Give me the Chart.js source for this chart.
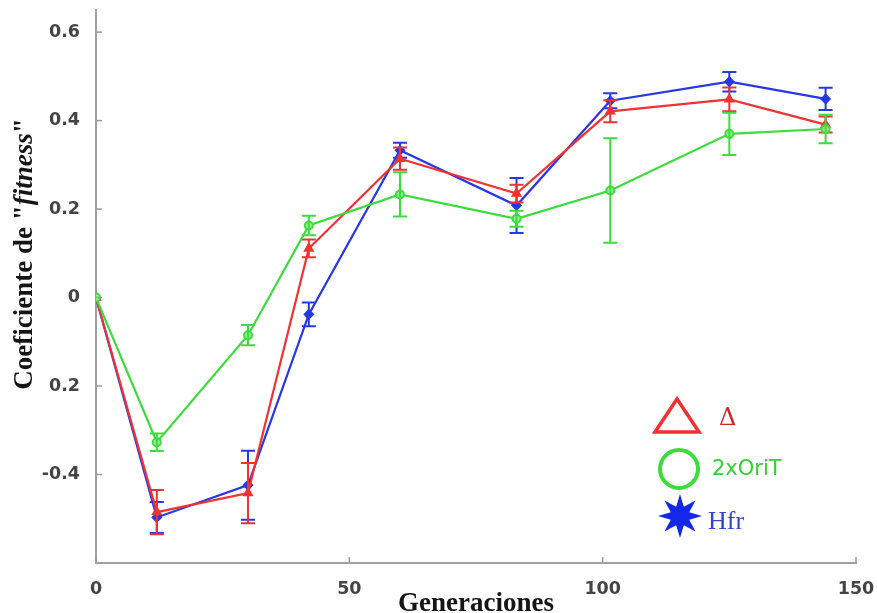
<!DOCTYPE html>
<html><head><meta charset="utf-8">
<script src="https://cdn.jsdelivr.net/npm/chart.js@4/dist/chart.umd.min.js"></script>
<style>html,body{margin:0;padding:0;background:#fff;}canvas{display:block;}</style>
</head><body>
<canvas id="c" width="877" height="613"></canvas>
<script>
// ---- data ----
const generations = [0, 12, 30, 42, 60, 83, 101.5, 125, 144];
const deltaValues  = [0, -0.485, -0.442, 0.111, 0.314, 0.235, 0.421, 0.448, 0.391];
const deltaErrors  = [0, 0.05, 0.068, 0.02, 0.025, 0.02, 0.025, 0.027, 0.018];
const orit2Values  = [0, -0.327, -0.085, 0.163, 0.233, 0.178, 0.242, 0.370, 0.381];
const orit2Errors  = [0, 0.02, 0.023, 0.022, 0.05, 0.018, 0.118, 0.048, 0.032];
const hfrValues    = [0, -0.497, -0.424, -0.038, 0.333, 0.208, 0.445, 0.488, 0.449];
const hfrErrors    = [0, 0.035, 0.078, 0.027, 0.017, 0.062, 0.017, 0.022, 0.025];
const seriesNames  = ['Δ', '2xOriT', 'Hfr'];
const xTickValues  = [0, 50, 100, 150];
const yTickValues  = [-0.4, -0.2, 0, 0.2, 0.4, 0.6];
const yTickLabels  = ['-0.4', '0.2', '0', '0.2', '0.4', '0.6'];
const xTitle = 'Generaciones';
const yTitleParts = [['Coeficiente de "', false], ['fitness', true], ['"', false]];

const RED = 'rgb(240,50,50)', GREEN = 'rgb(60,220,60)', BLUE = 'rgb(40,55,230)';

function pts(vals){ return generations.map((g,i)=>({x:g, y:vals[i]})); }

const errorBars = {
  id:'errorBars',
  afterDatasetDraw(chart, args){
    const ds = chart.data.datasets[args.index];
    if(!ds.errors) return;
    const xs = chart.scales.x, ys = chart.scales.y, ctx = chart.ctx;
    ctx.save();
    ctx.strokeStyle = ds.borderColor; ctx.lineWidth = 2;
    ds.data.forEach((p,i)=>{
      const e = ds.errors[i]; if(!e) return;
      const px = xs.getPixelForValue(p.x);
      const y1 = ys.getPixelForValue(p.y + e), y2 = ys.getPixelForValue(p.y - e);
      ctx.beginPath();
      ctx.moveTo(px, y1); ctx.lineTo(px, y2);
      ctx.moveTo(px-7, y1); ctx.lineTo(px+7, y1);
      ctx.moveTo(px-7, y2); ctx.lineTo(px+7, y2);
      ctx.stroke();
    });
    ctx.restore();
  }
};

const decorations = {
  id:'decorations',
  afterDraw(chart){
    const ctx = chart.ctx, xs = chart.scales.x, ys = chart.scales.y, a = chart.chartArea;
    ctx.save();
    // inward tick marks
    ctx.strokeStyle = '#9a9a9a'; ctx.lineWidth = 1.5;
    yTickValues.forEach(v=>{ const y = ys.getPixelForValue(v); ctx.beginPath(); ctx.moveTo(a.left, y); ctx.lineTo(a.left+6, y); ctx.stroke(); });
    xTickValues.forEach(v=>{ const x = xs.getPixelForValue(v); ctx.beginPath(); ctx.moveTo(x, a.bottom); ctx.lineTo(x, a.bottom-6); ctx.stroke(); });
    // x title
    ctx.fillStyle = '#151515';
    ctx.font = 'bold 27px "Liberation Serif"';
    ctx.textAlign = 'center'; ctx.textBaseline = 'alphabetic';
    ctx.fillText(xTitle, (a.left+a.right)/2, 611);
    // y title (mixed fonts)
    ctx.save();
    ctx.translate(32, 254); ctx.rotate(-Math.PI/2);
    ctx.textAlign = 'left';
    const fonts = it => (it ? 'italic bold 27px "Liberation Serif"' : 'bold 27px "Liberation Serif"');
    let total = 0;
    yTitleParts.forEach(([t,it])=>{ ctx.font = fonts(it); total += ctx.measureText(t).width; });
    let x = -total/2;
    yTitleParts.forEach(([t,it])=>{ ctx.font = fonts(it); ctx.fillText(t, x, 0); x += ctx.measureText(t).width; });
    ctx.restore();
    // legend
    ctx.lineJoin = 'miter';
    ctx.strokeStyle = RED; ctx.lineWidth = 3.5;
    ctx.beginPath(); ctx.moveTo(677, 399); ctx.lineTo(699, 432); ctx.lineTo(655, 432); ctx.closePath(); ctx.stroke();
    ctx.fillStyle = '#cc2a2a'; ctx.font = '24px "DejaVu Serif"'; ctx.textAlign = 'left'; ctx.textBaseline = 'middle';
    ctx.fillText(seriesNames[0], 719, 419);
    ctx.strokeStyle = GREEN; ctx.lineWidth = 4;
    ctx.beginPath(); ctx.arc(679, 469, 19, 0, Math.PI*2); ctx.stroke();
    ctx.fillStyle = 'rgb(50,210,50)'; ctx.font = '21px "DejaVu Sans"';
    ctx.fillText(seriesNames[1], 712, 470);
    ctx.fillStyle = 'rgb(20,40,235)';
    ctx.beginPath();
    for(let k=0;k<16;k++){ const r = k%2===0 ? 22 : 10; const ang = -Math.PI/2 + k*Math.PI/8; const px = 680 + r*Math.cos(ang), py = 516 + r*Math.sin(ang); k===0?ctx.moveTo(px,py):ctx.lineTo(px,py); }
    ctx.closePath(); ctx.fill();
    ctx.fillStyle = '#3a44c8'; ctx.font = '26px "Liberation Serif"'; ctx.textBaseline = 'alphabetic';
    ctx.fillText(seriesNames[2], 708, 529);
    ctx.restore();
  }
};

function zeroPad(s){ s.paddingTop = 0; s.paddingBottom = 0; s.paddingLeft = 0; s.paddingRight = 0; }

new Chart(document.getElementById('c'), {
  type:'line',
  data:{ datasets:[
    { label:seriesNames[1], data:pts(orit2Values), errors:orit2Errors, borderColor:GREEN, backgroundColor:'rgba(150,240,150,1)', pointStyle:'circle', pointRadius:4, pointBorderWidth:2, borderWidth:2.2, tension:0 },
    { label:seriesNames[0], data:pts(deltaValues), errors:deltaErrors, borderColor:RED, backgroundColor:RED, pointStyle:'triangle', pointRadius:5, pointBorderWidth:1.5, borderWidth:2.2, tension:0 },
    { label:seriesNames[2], data:pts(hfrValues), errors:hfrErrors, borderColor:BLUE, backgroundColor:BLUE, pointStyle:'rectRot', pointRadius:4.5, pointBorderWidth:1.5, borderWidth:2.2, tension:0 }
  ]},
  options:{
    responsive:false, animation:false,
    layout:{ padding:{ left:0, top:10, right:21, bottom:0 } },
    plugins:{ legend:{display:false}, tooltip:{enabled:false}, title:{display:false} },
    scales:{
      x:{ type:'linear', min:0, max:150,
          afterBuildTicks(s){ s.ticks = xTickValues.map(v=>({value:v})); },
          afterFit(s){ s.height = 50; zeroPad(s); },
          grid:{ display:false, drawTicks:false },
          border:{ display:true, color:'#a0a0a0', width:2 },
          ticks:{ padding:16, color:'#444', font:{ family:'DejaVu Sans', size:17.5, weight:'bold' }, maxRotation:0, callback:v=>String(v) } },
      y:{ type:'linear', min:-0.6, max:0.65,
          afterBuildTicks(s){ s.ticks = yTickValues.map(v=>({value:v})); },
          afterFit(s){ s.width = 96; zeroPad(s); },
          grid:{ display:false, drawTicks:false },
          border:{ display:true, color:'#a0a0a0', width:2 },
          ticks:{ padding:16, color:'#444', font:{ family:'DejaVu Sans', size:17.5, weight:'bold' },
                  callback:(v)=>{ const i = yTickValues.findIndex(t=>Math.abs(t-v)<1e-9); return i>=0 ? yTickLabels[i] : ''; } } }
    }
  },
  plugins:[errorBars, decorations]
});
</script>
</body></html>
